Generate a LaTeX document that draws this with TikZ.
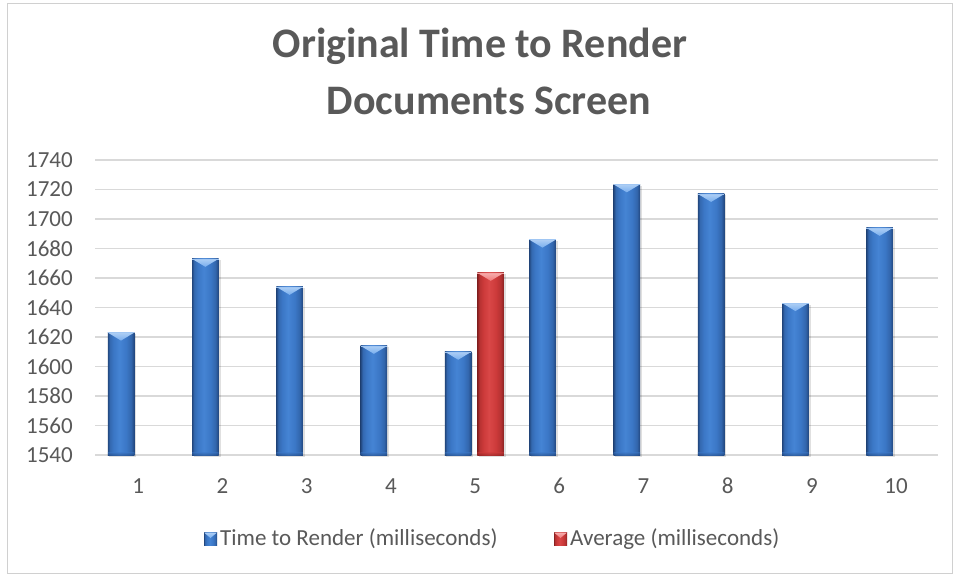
\documentclass[tikz,border=0pt]{standalone}
\usepackage{fontspec}
\setmainfont{Carlito}
\definecolor{txt}{HTML}{595959}
\definecolor{gridc}{HTML}{D9D9D9}
\definecolor{framec}{HTML}{D0D0D0}
\definecolor{bluemid}{HTML}{3B77C6}
\definecolor{bluelight}{HTML}{4584D4}
\definecolor{blueedge}{HTML}{22477E}
\definecolor{bluetop}{HTML}{78AEEE}
\definecolor{redmid}{HTML}{CC3A3A}
\definecolor{redlight}{HTML}{D94747}
\definecolor{rededge}{HTML}{882121}
\definecolor{redtop}{HTML}{F07878}

% horizontal column shadings (path spans 25bp..75bp): dark rims, broad lit middle
\pgfdeclarehorizontalshading{bluecol}{100bp}{color(0bp)=(blueedge); color(25bp)=(blueedge); color(29bp)=(bluemid!70!blueedge);
  color(36bp)=(bluemid); color(47bp)=(bluelight); color(60bp)=(bluemid); color(69bp)=(bluemid!65!blueedge); color(75bp)=(blueedge); color(100bp)=(blueedge)}
\pgfdeclarehorizontalshading{redcol}{100bp}{color(0bp)=(rededge); color(25bp)=(rededge); color(29bp)=(redmid!70!rededge);
  color(36bp)=(redmid); color(47bp)=(redlight); color(60bp)=(redmid); color(69bp)=(redmid!65!rededge); color(75bp)=(rededge); color(100bp)=(rededge)}

% one bevelled column: centre x, value, shading, middle colour, edge colour, top colour
\newcommand\chartbar[6]{%
  \pgfmathsetmacro\bl{#1-13.25}%
  \pgfmathsetmacro\br{#1+13.25}%
  \pgfmathsetmacro\bt{124+(#2-1540)*1.475}%
  \fill[black, opacity=0.12] (\bl+1.5,122.5) rectangle (\br+2,\bt-1.5);
  \shade[shading=#3] (\bl,124) rectangle (\br,\bt);
  \shade[top color=#4, bottom color=#5, opacity=0.5] (\bl,127) rectangle (\br,124);
  \shade[top color=#6!60!white, bottom color=#6] (\bl,\bt) -- (\br,\bt) -- (#1,\bt-8) -- cycle;
  \draw[#6!70!white, line width=0.5pt] (\bl,\bt) -- (\br,\bt);
}
% legend marker in the same bevelled look
\newcommand\legendkey[6]{%
  \shade[shading=#3] (#1,#2-6.5) rectangle (#1+13,#2+6.5);
  \shade[top color=#6!60!white, bottom color=#6] (#1,#2+6.5) -- (#1+13,#2+6.5) -- (#1+6.5,#2+1) -- cycle;
}

\tikzset{
  ticklab/.style={text=txt, font=\fontsize{23}{27}\selectfont, inner sep=0pt},
  titlelab/.style={text=txt, font=\fontsize{42}{48}\selectfont\bfseries, inner sep=0pt, anchor=base},
  gridline/.style={draw=gridc, line width=1.3pt},
}

\begin{document}
\begin{tikzpicture}[x=1pt, y=1pt]
  \useasboundingbox (0,0) rectangle (960,579);
  \fill[white] (0,0) rectangle (960,579);
  % chart frame
  \draw[framec, line width=1pt] (7.5,5.5) rectangle (952.5,575.5);

  % title
  \node[titlelab] (title1) at (480,521.7) {Original Time to Render};
  \node[titlelab] (title2) at (489,464.7) {Documents Screen};

  % horizontal gridlines and value axis labels
  \foreach \v [count=\k] in {1540,1560,...,1740} {
    \pgfmathsetmacro\yy{124+(\v-1540)*1.475}
    \draw[gridline] (95,\yy) -- (938,\yy);
    \node[ticklab, anchor=east] (ylab\k) at (73,\yy) {\v};
  }

  % category labels
  \foreach \i in {1,...,10} {
    \pgfmathsetmacro\xx{138.3+84.2*(\i-1)}
    \node[ticklab, anchor=base] (xlab\i) at (\xx,85.5) {\i};
  }

  % columns: time to render
  \foreach \val [count=\i] in {1623,1673,1654,1614,1610,1686,1723.5,1717,1643,1694} {
    \pgfmathsetmacro\cx{121+84.3*(\i-1)}
    \chartbar{\cx}{\val}{bluecol}{bluemid}{blueedge}{bluetop}
  }
  % column: average
  \chartbar{490.7}{1663.5}{redcol}{redmid}{rededge}{redtop}

  % legend
  \legendkey{204}{40}{bluecol}{bluemid}{blueedge}{bluetop}
  \node[ticklab, anchor=west] (leg1) at (220,40) {Time to Render (milliseconds)};
  \legendkey{554}{40}{redcol}{redmid}{rededge}{redtop}
  \node[ticklab, anchor=west] (leg2) at (570,40) {Average (milliseconds)};
\end{tikzpicture}
\end{document}
